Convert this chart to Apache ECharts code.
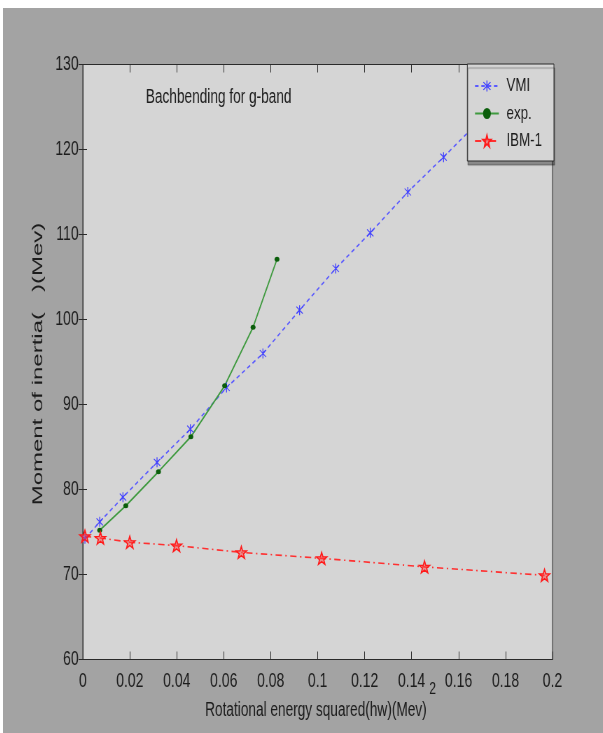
<!DOCTYPE html>
<html>
<head>
<meta charset="utf-8">
<title>Backbending for g-band</title>
<script src="https://cdn.jsdelivr.net/npm/echarts@6/dist/echarts.min.js"></script>
<style>
  html, body { margin: 0; padding: 0; background: #ffffff; width: 603px; height: 733px; overflow: hidden; }
  /* The figure is laid out on a wider canvas and condensed horizontally */
  #fig { position: absolute; left: 3px; top: 8px; width: 857px; height: 725px;
         transform: scaleX(0.7); transform-origin: 0 0; }
</style>
</head>
<body>
<div id="fig"></div>
<script>
// ---- data -------------------------------------------------------------
const vmiX = [0.0009, 0.0072, 0.0171, 0.0316, 0.0458, 0.0612, 0.0767, 0.0923, 0.1077, 0.1224, 0.1384, 0.1536, 0.1690];
const vmiY = [74.2, 76.2, 79.1, 83.2, 87.1, 92.0, 96.0, 101.1, 106.0, 110.2, 115.0, 119.1, 123.4];

const expX = [0.0072, 0.0183, 0.0322, 0.0460, 0.0604, 0.0725, 0.0827];
const expY = [75.2, 78.1, 82.1, 86.2, 92.2, 99.1, 107.1];

const ibmX = [0.0009, 0.0075, 0.0200, 0.0399, 0.0675, 0.1017, 0.1455, 0.1966];
const ibmY = [74.5, 74.3, 73.8, 73.4, 72.6, 71.9, 70.9, 69.9];

const seriesNames = ['VMI', 'exp.', 'IBM-1'];
const xTickLabels = ['0', '0.02', '0.04', '0.06', '0.08', '0.1', '0.12', '0.14', '0.16', '0.18', '0.2'];
const yTickLabels = ['60', '70', '80', '90', '100', '110', '120', '130'];

const plotTitle = 'Bachbending for g-band';
const xTitle = 'Rotational energy squared(hw)(Mev)';
const xTitleSup = '2';
const yTitle = 'Moment of inertia(   )(Mev)';

// ---- helpers ----------------------------------------------------------
const FONT = '"Liberation Sans", Arial, Helvetica, sans-serif';
const TEXT = '#1c1c1c';
const pairs = (xs, ys) => xs.map((x, i) => [x, ys[i]]);

// asterisk marker: vertical bar plus two diagonals
const asterisk = 'path://M-1,-10L1,-10L1,10L-1,10Z' +
  'M-6.3,-7.7L7.7,6.3L6.3,7.7L-7.7,-6.3Z' +
  'M6.3,-7.7L7.7,-6.3L-6.3,7.7L-7.7,6.3Z';

// five-pointed star marker
function starPath() {
  let d = '';
  for (let k = 0; k < 10; k++) {
    const r = k % 2 === 0 ? 10 : 4;
    const a = -Math.PI / 2 + k * Math.PI / 5;
    d += (k === 0 ? 'M' : 'L') + (r * Math.cos(a)).toFixed(3) + ',' + (r * Math.sin(a)).toFixed(3);
  }
  return 'path://' + d + 'Z';
}

const xMin = 0, xMax = 0.2, xStep = 0.02;
const yMin = 60, yMax = 130, yStep = 10;

const chart = echarts.init(document.getElementById('fig'), null, { renderer: 'canvas' });

const boxAxisLine = { show: true, lineStyle: { color: '#2a2a2a', width: 1 } };

chart.setOption({
  backgroundColor: '#a3a3a3',
  animation: false,
  textStyle: { fontFamily: FONT },
  grid: {
    show: true, left: 114, top: 56.5, right: 72, bottom: 73.5,
    backgroundColor: '#d5d5d5', borderColor: '#2a2a2a', borderWidth: 1
  },
  xAxis: [{
    type: 'value', min: xMin, max: xMax, interval: xStep, position: 'bottom',
    axisLine: boxAxisLine,
    axisTick: { show: true, inside: true, length: 8, lineStyle: { color: '#2a2a2a' } },
    splitLine: { show: false },
    axisLabel: {
      margin: 12, fontSize: 20, color: TEXT, fontFamily: FONT,
      formatter: v => xTickLabels[Math.round((v - xMin) / xStep)]
    }
  }, {
    type: 'value', min: xMin, max: xMax, interval: xStep, position: 'top',
    axisLine: boxAxisLine,
    axisTick: { show: true, inside: true, length: 8, lineStyle: { color: '#2a2a2a' } },
    splitLine: { show: false }, axisLabel: { show: false }
  }],
  yAxis: [{
    type: 'value', min: yMin, max: yMax, interval: yStep, position: 'left',
    axisLine: boxAxisLine,
    axisTick: { show: true, inside: true, length: 6, lineStyle: { color: '#2a2a2a' } },
    splitLine: { show: false },
    axisLabel: {
      margin: 6, fontSize: 20, color: TEXT, fontFamily: FONT,
      formatter: v => yTickLabels[Math.round((v - yMin) / yStep)]
    }
  }, {
    type: 'value', min: yMin, max: yMax, interval: yStep, position: 'right',
    axisLine: boxAxisLine,
    axisTick: { show: true, inside: true, length: 6, lineStyle: { color: '#2a2a2a' } },
    splitLine: { show: false }, axisLabel: { show: false }
  }],
  legend: {
    data: seriesNames,
    orient: 'vertical', right: 70, top: 56,
    padding: [12, 17, 10, 10],
    itemWidth: 34, itemHeight: 14, itemGap: 7.5,
    backgroundColor: '#d5d5d5', borderColor: '#2a2a2a', borderWidth: 1,
    shadowColor: 'rgba(0,0,0,0.35)', shadowBlur: 1, shadowOffsetX: 1, shadowOffsetY: 4,
    textStyle: { fontSize: 19, lineHeight: 20, color: TEXT, fontFamily: FONT, padding: [0, 0, 0, 6] }
  },
  graphic: [
    { type: 'text', left: 204, top: 80, z: 10,
      style: { text: plotTitle, fontSize: 19.5, fill: TEXT, fontFamily: FONT } },
    { type: 'text', x: 447, y: 703, z: 10,
      style: { text: xTitle, fontSize: 19.5, fill: TEXT, fontFamily: FONT, align: 'center', verticalAlign: 'middle' } },
    { type: 'text', x: 609, y: 681, z: 10,
      style: { text: xTitleSup, fontSize: 17, fill: TEXT, fontFamily: FONT, align: 'left', verticalAlign: 'middle' } },
    // rotated axis title, stretched along its length
    { type: 'text', x: 50, y: 356, rotation: Math.PI / 2, scaleX: 1.2, scaleY: 1, z: 10,
      style: { text: yTitle, fontSize: 20, fill: TEXT, fontFamily: FONT, align: 'center', verticalAlign: 'middle' } }
  ],
  series: [{
    name: seriesNames[0], type: 'line', xAxisIndex: 0, yAxisIndex: 0,
    data: pairs(vmiX, vmiY),
    symbol: asterisk, symbolSize: [10, 10],
    itemStyle: { color: '#4040ff' },
    lineStyle: { color: '#5a5aff', width: 1.6, type: [5, 4] }
  }, {
    name: seriesNames[1], type: 'line', xAxisIndex: 0, yAxisIndex: 0,
    data: pairs(expX, expY),
    symbol: 'circle', symbolSize: [7, 5],
    itemStyle: { color: '#0b5e0b' },
    lineStyle: { color: '#3f9a3f', width: 1.8, type: 'solid' }
  }, {
    name: seriesNames[2], type: 'line', xAxisIndex: 0, yAxisIndex: 0,
    data: pairs(ibmX, ibmY),
    symbol: starPath(), symbolSize: [15, 12],
    itemStyle: { color: 'rgba(255,60,60,0.45)', borderColor: '#ff1a1a', borderWidth: 1.5 },
    lineStyle: { color: '#ff3030', width: 1.6, type: [9, 5, 2, 5] }
  }]
});
</script>
</body>
</html>
